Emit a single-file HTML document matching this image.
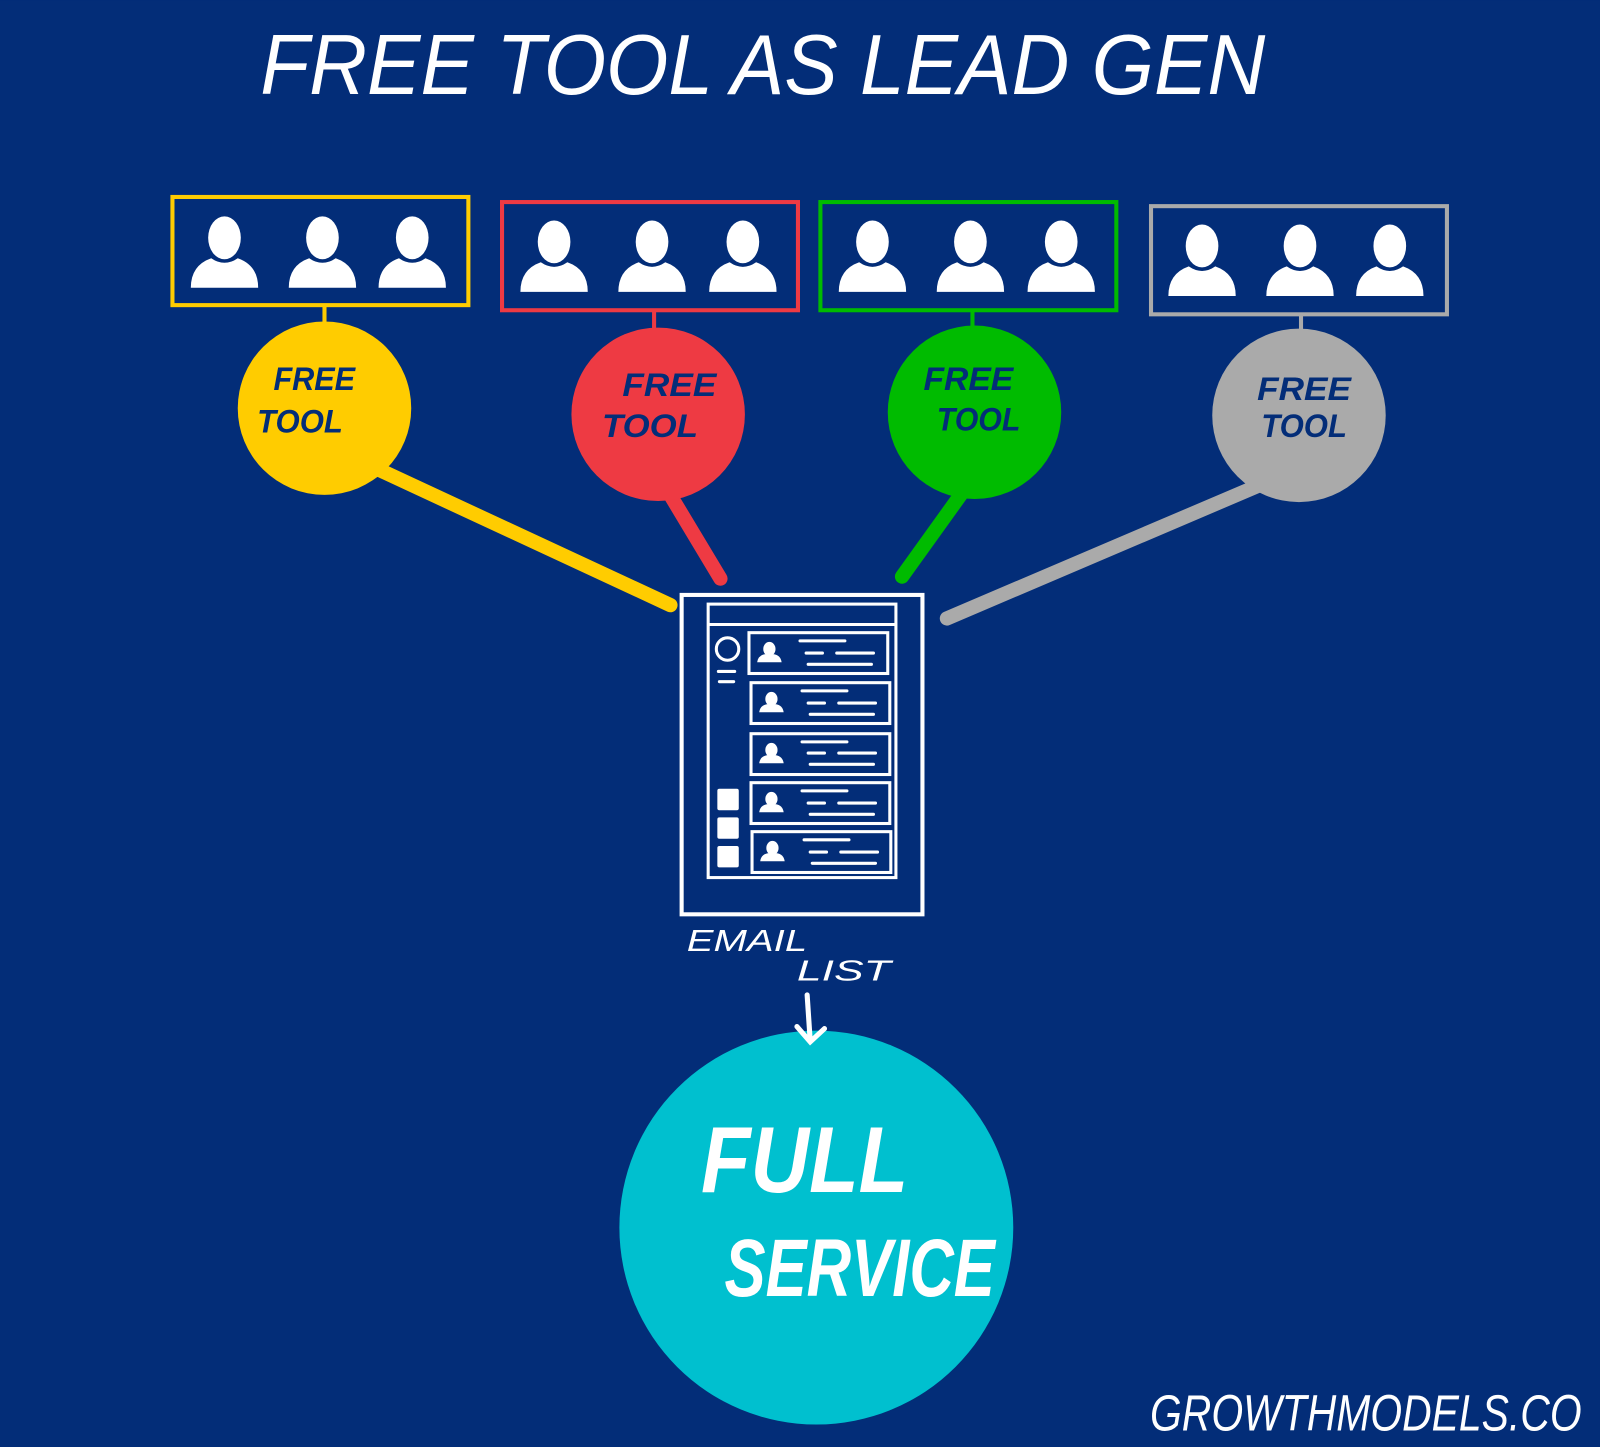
<!DOCTYPE html>
<html><head><meta charset="utf-8"><style>
html,body{margin:0;padding:0;background:#032d78;}
svg{display:block}
text{font-family:"Liberation Sans",sans-serif;font-style:italic;}
</style></head><body>
<svg width="1600" height="1447" viewBox="0 0 1568 1418" xmlns="http://www.w3.org/2000/svg">
<defs>
<g id="p"><ellipse cx="0" cy="-15" rx="16" ry="21" fill="#fff"/><path d="M-33,34 Q-33,12 -13,5 Q0,14 13,5 Q33,12 33,34 Z" fill="#fff"/></g>
<g id="s"><ellipse cx="0" cy="-4" rx="6" ry="7" fill="#fff"/><path d="M-12,9 Q-11,2 -4,1 Q0,4 4,1 Q11,2 12,9 Z" fill="#fff"/></g>
</defs>
<rect width="1568" height="1418" fill="#032d78"/>
<text x="255" y="92" font-size="84" fill="#fff" textLength="985" lengthAdjust="spacingAndGlyphs">FREE TOOL AS LEAD GEN</text>
<g stroke-linecap="round" stroke-width="14">
<line x1="360" y1="455" x2="657" y2="593" stroke="#ffcc00"/>
<line x1="655" y1="482" x2="706" y2="567" stroke="#ee3a43"/>
<line x1="945" y1="480" x2="884" y2="565" stroke="#00bb00"/>
<line x1="1240" y1="473" x2="928" y2="606" stroke="#aaaaaa"/>
</g>
<g fill="none" stroke-width="4">
<rect x="169" y="193" width="290" height="106" stroke="#ffcc00"/>
<rect x="492" y="198" width="290" height="106" stroke="#ee3a43"/>
<rect x="804" y="198" width="290" height="106" stroke="#00bb00"/>
<rect x="1128" y="202" width="290" height="106" stroke="#aaaaaa"/>
<line x1="318" y1="299" x2="318" y2="318" stroke="#ffcc00"/>
<line x1="641" y1="304" x2="641" y2="323" stroke="#ee3a43"/>
<line x1="953" y1="304" x2="953" y2="321" stroke="#00bb00"/>
<line x1="1275" y1="308" x2="1275" y2="325" stroke="#aaaaaa"/>
</g>
<use href="#p" x="220" y="248"/><use href="#p" x="316" y="248"/><use href="#p" x="404" y="248"/>
<use href="#p" x="543" y="252"/><use href="#p" x="639" y="252"/><use href="#p" x="728" y="252"/>
<use href="#p" x="855" y="252"/><use href="#p" x="951" y="252"/><use href="#p" x="1040" y="252"/>
<use href="#p" x="1178" y="256"/><use href="#p" x="1274" y="256"/><use href="#p" x="1362" y="256"/>
<circle cx="318" cy="400" r="85" fill="#ffcc00"/>
<circle cx="645" cy="406" r="85" fill="#ee3a43"/>
<circle cx="955" cy="404" r="85" fill="#00bb00"/>
<circle cx="1273" cy="407" r="85" fill="#aaaaaa"/>
<g fill="#032d78" font-size="32" font-weight="bold">
<text x="268" y="382" textLength="80" lengthAdjust="spacingAndGlyphs">FREE</text>
<text x="252" y="424" textLength="84" lengthAdjust="spacingAndGlyphs">TOOL</text>
<text x="610" y="388" textLength="92" lengthAdjust="spacingAndGlyphs">FREE</text>
<text x="590" y="428" textLength="94" lengthAdjust="spacingAndGlyphs">TOOL</text>
<text x="905" y="382" textLength="88" lengthAdjust="spacingAndGlyphs">FREE</text>
<text x="918" y="422" textLength="82" lengthAdjust="spacingAndGlyphs">TOOL</text>
<text x="1232" y="392" textLength="92" lengthAdjust="spacingAndGlyphs">FREE</text>
<text x="1236" y="428" textLength="84" lengthAdjust="spacingAndGlyphs">TOOL</text>
</g>
<g fill="none" stroke="#fff" stroke-width="4">
<rect x="668" y="583" width="236" height="313"/>
<rect x="694" y="592" width="184" height="268" stroke-width="3"/>
<line x1="694" y1="612" x2="878" y2="612" stroke-width="3"/>
<circle cx="713" cy="636" r="11" stroke-width="3"/>
<rect x="734" y="620" width="136" height="40" stroke-width="3"/>
<rect x="736" y="669" width="136" height="40" stroke-width="3"/>
<rect x="736" y="719" width="136" height="40" stroke-width="3"/>
<rect x="736" y="767" width="136" height="40" stroke-width="3"/>
<rect x="737" y="815" width="136" height="40" stroke-width="3"/>
<g stroke-width="3" stroke-linecap="round">
<path d="M704,658h16M705,668h14"/>
<path d="M784,628h44M790,640h16M820,640h36M792,651h62"/>
<path d="M786,677h44M792,689h16M822,689h36M794,700h62"/>
<path d="M786,727h44M792,738h16M822,738h36M794,749h62"/>
<path d="M786,775h44M792,787h16M822,787h36M794,798h62"/>
<path d="M788,823h44M794,835h16M824,835h36M796,846h62"/>
</g>
</g>
<use href="#s" x="754" y="640"/><use href="#s" x="756" y="689"/><use href="#s" x="756" y="739"/><use href="#s" x="756" y="787"/><use href="#s" x="757" y="835"/>
<g fill="#fff"><rect x="703" y="773" width="21" height="21" rx="2"/><rect x="703" y="801" width="21" height="21" rx="2"/><rect x="703" y="829" width="21" height="21" rx="2"/></g>
<text x="673" y="932" font-size="30" fill="#fff" textLength="118" lengthAdjust="spacingAndGlyphs">EMAIL</text>
<text x="781" y="961" font-size="28" fill="#fff" textLength="92" lengthAdjust="spacingAndGlyphs">LIST</text>
<circle cx="800" cy="1203" r="193" fill="#00c0cf"/>
<path d="M791,975 L794,1020 M781,1006 L794,1021 L808,1008" stroke="#fff" stroke-width="5" fill="none" stroke-linecap="round"/>
<text x="687" y="1168" font-size="92" fill="#fff" font-weight="bold" textLength="203" lengthAdjust="spacingAndGlyphs">FULL</text>
<text x="710" y="1270" font-size="80" fill="#fff" font-weight="bold" textLength="265" lengthAdjust="spacingAndGlyphs">SERVICE</text>
<text x="1127" y="1402" font-size="50" fill="#fff" textLength="423" lengthAdjust="spacingAndGlyphs">GROWTHMODELS.CO</text>
</svg>
</body></html>
